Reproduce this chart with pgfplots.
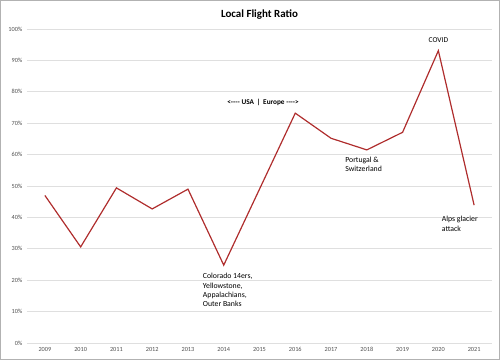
\documentclass[border=0pt]{standalone}
\usepackage{pgfplots}
\pgfplotsset{compat=1.18}
\usepackage{fontspec}
\setmainfont{Carlito}
\definecolor{linered}{RGB}{175,45,45}
\definecolor{ticktext}{RGB}{80,80,80}
\begin{document}
\begin{tikzpicture}[x=1bp,y=1bp]
\useasboundingbox (-27,-17) rectangle (473,343);
\draw[gray!60,line width=0.8bp] (-26.6,-16.6) rectangle (472.6,342.6);
\begin{axis}[
  at={(0,0)}, anchor=south west,
  scale only axis, width=465bp, height=314bp,
  xmin=-0.5, xmax=12.5, ymin=0, ymax=100,
  xtick={0,...,12},
  xticklabels={2009,2010,2011,2012,2013,2014,2015,2016,2017,2018,2019,2020,2021},
  ytick={0,10,...,100},
  yticklabel={\pgfmathprintnumber{\tick}\%},
  /pgf/number format/assume math mode=true,
  ymajorgrids, grid style={gray!25, line width=0.8bp},
  axis line style={draw=none},
  major tick style={draw=none},
  ticklabel style={font=\fontsize{6.3}{7}\selectfont, text=ticktext},
  xticklabel style={yshift=-1bp},
  yticklabel style={xshift=-1bp},
  clip=false,
]
\addplot[linered, line width=1.2bp] coordinates {
(0,47.0) (1,30.6) (2,49.4) (3,42.7) (4,49.0) (5,24.8) (6,49.0) (7,73.2) (8,65.2) (9,61.5) (10,67.1) (11,93.1) (12,43.9)};
\node[font=\bfseries\fontsize{11}{13}\selectfont] at (axis cs:6,104.6) {Local Flight Ratio};
\node[font=\fontsize{7.5}{9}\selectfont] at (axis cs:11,96.5) {COVID};
\node[font=\bfseries\fontsize{7.3}{8}\selectfont] at (axis cs:6.1,76.6) {<-{}-{}-{}- USA \,|\, Europe -{}-{}-{}->};
\node[font=\fontsize{7.8}{9.3}\selectfont, anchor=north west, align=left] at (axis cs:4.32,23.3) {Colorado 14ers,\\Yellowstone,\\Appalachians,\\Outer Banks};
\node[font=\fontsize{7.8}{9.3}\selectfont, anchor=north west, align=left] at (axis cs:8.3,60.3) {Portugal \&\\Switzerland};
\node[font=\fontsize{7.8}{9.3}\selectfont, anchor=north west, align=left] at (axis cs:11.0,41.4) {Alps glacier\\attack};
\end{axis}
\end{tikzpicture}
\end{document}
